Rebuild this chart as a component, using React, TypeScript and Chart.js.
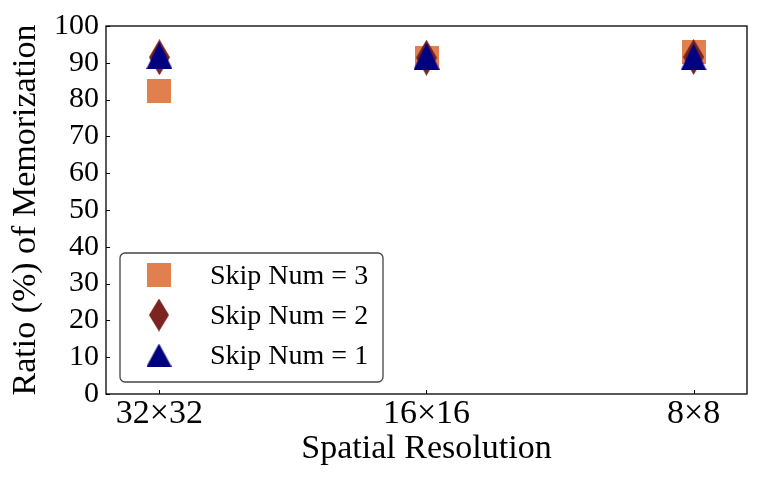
import React, { useEffect, useRef } from 'react';
import { Chart, registerables } from 'chart.js';

Chart.register(...registerables);

const categories = ['32×32', '16×16', '8×8'];
const skipNum3 = [82.3, 91.2, 92.8];
const skipNum2 = [91.5, 91.4, 91.6];
const skipNum1 = [92.0, 91.8, 91.6];
const seriesLabels = ['Skip Num = 3', 'Skip Num = 2', 'Skip Num = 1'];
const yTickValues = [0, 10, 20, 30, 40, 50, 60, 70, 80, 90, 100];
const xTitle = 'Spatial Resolution';
const yTitle = 'Ratio (%) of Memorization';

const COLORS = { sq: '#E0804F', dia: '#7C2420', tri: '#000080' };
const FONT = "'Liberation Serif', 'Times New Roman', serif";

function makeMarker(kind: string, color: string, w: number, h: number) {
  const c = document.createElement('canvas');
  c.width = w;
  c.height = h;
  const ctx = c.getContext('2d')!;
  ctx.fillStyle = color;
  ctx.beginPath();
  if (kind === 'square') {
    ctx.rect(0, 0, w, h);
  } else if (kind === 'diamond') {
    ctx.moveTo(w / 2, 0);
    ctx.lineTo(w, h / 2);
    ctx.lineTo(w / 2, h);
    ctx.lineTo(0, h / 2);
    ctx.closePath();
  } else {
    ctx.moveTo(w / 2, 0);
    ctx.lineTo(w, h);
    ctx.lineTo(0, h);
    ctx.closePath();
  }
  ctx.fill();
  return c;
}

export default function App() {
  const ref = useRef<HTMLCanvasElement | null>(null);

  useEffect(() => {
    if (!ref.current) return;
    const sq = makeMarker('square', COLORS.sq, 24, 24);
    const dia = makeMarker('diamond', COLORS.dia, 21, 36);
    const tri = makeMarker('triangle', COLORS.tri, 26, 27);
    const lsq = makeMarker('square', COLORS.sq, 24, 24);
    const ldia = makeMarker('diamond', COLORS.dia, 20, 33);
    const ltri = makeMarker('triangle', COLORS.tri, 25, 23);

    const toPts = (arr: number[]) => arr.map((v, i) => ({ x: i, y: v }));

    const framePlugin = {
      id: 'frameTicksLegend',
      afterDatasetsDraw(chart: any) {
        const { ctx, chartArea: a, scales } = chart;
        ctx.save();
        ctx.strokeStyle = '#000';
        ctx.lineWidth = 1.3;
        ctx.strokeRect(a.left, a.top, a.right - a.left, a.bottom - a.top);
        ctx.lineWidth = 1;
        ctx.beginPath();
        yTickValues.forEach((v) => {
          const y = Math.round(scales.y.getPixelForValue(v)) + 0.5;
          ctx.moveTo(a.left, y);
          ctx.lineTo(a.left + 4, y);
        });
        categories.forEach((_, i) => {
          const x = Math.round(scales.x.getPixelForValue(i)) + 0.5;
          ctx.moveTo(x, a.bottom);
          ctx.lineTo(x, a.bottom - 4);
        });
        ctx.stroke();

        // legend box
        const lx = 120, ly = 253, lw = 263, lh = 129;
        ctx.beginPath();
        (ctx as any).roundRect(lx, ly, lw, lh, 5);
        ctx.fillStyle = 'rgba(255,255,255,0.8)';
        ctx.fill();
        ctx.strokeStyle = '#444';
        ctx.lineWidth = 1.3;
        ctx.stroke();

        const icons = [lsq, ldia, ltri];
        const baselines = [283.5, 323.5, 363.5];
        ctx.font = `28px ${FONT}`;
        ctx.fillStyle = '#000';
        ctx.textBaseline = 'alphabetic';
        ctx.textAlign = 'left';
        seriesLabels.forEach((t, i) => {
          const cy = baselines[i] - 8.5;
          const ic = icons[i];
          ctx.drawImage(ic, 159 - ic.width / 2, cy - ic.height / 2);
          ctx.fillText(t, 210, baselines[i]);
        });
        ctx.restore();
      },
    };

    const chart = new Chart(ref.current, {
      type: 'scatter',
      data: {
        datasets: [
          { label: seriesLabels[2], data: toPts(skipNum1), pointStyle: tri as any, pointRadius: 12, backgroundColor: COLORS.tri, borderColor: COLORS.tri },
          { label: seriesLabels[1], data: toPts(skipNum2), pointStyle: dia as any, pointRadius: 12, backgroundColor: COLORS.dia, borderColor: COLORS.dia },
          { label: seriesLabels[0], data: toPts(skipNum3), pointStyle: sq as any, pointRadius: 12, backgroundColor: COLORS.sq, borderColor: COLORS.sq },
        ],
      },
      options: {
        animation: false,
        responsive: false,
        devicePixelRatio: 1,
        layout: { padding: { left: 0, top: 26, right: 15, bottom: 0 } },
        plugins: { legend: { display: false }, tooltip: { enabled: false } },
        scales: {
          x: {
            type: 'linear',
            min: -0.2,
            max: 2.2,
            afterBuildTicks: (s: any) => {
              s.ticks = categories.map((_, i) => ({ value: i }));
            },
            afterFit: (s: any) => {
              s.height = 87;
            },
            grid: { display: false, drawTicks: false },
            border: { display: false },
            ticks: {
              padding: 0,
              color: '#000',
              font: { family: FONT, size: 34 },
              maxRotation: 0,
              autoSkip: false,
              callback: (v: any) => categories[Math.round(Number(v))] ?? '',
            },
            title: {
              display: true,
              text: xTitle,
              color: '#000',
              font: { family: FONT, size: 34 },
              padding: { top: 0, bottom: 12 },
            },
          },
          y: {
            min: 0,
            max: 100,
            afterFit: (s: any) => {
              s.width = 106;
            },
            afterBuildTicks: (s: any) => {
              s.ticks = yTickValues.map((v) => ({ value: v }));
            },
            grid: { display: false, drawTicks: false },
            border: { display: false },
            ticks: {
              autoSkip: false,
              padding: 7,
              color: '#000',
              font: { family: FONT, size: 30, lineHeight: 1 },
            },
            title: {
              display: true,
              text: yTitle,
              color: '#000',
              font: { family: FONT, size: 34 },
              padding: { top: 6, bottom: 0 },
            },
          },
        },
      },
      plugins: [framePlugin],
    });
    return () => chart.destroy();
  }, []);

  return (
    <div style={{ position: 'fixed', left: 0, top: 0, width: 762, height: 481, background: '#fff' }}>
      <canvas ref={ref} width={762} height={481} style={{ width: 762, height: 481, display: 'block' }} />
    </div>
  );
}
